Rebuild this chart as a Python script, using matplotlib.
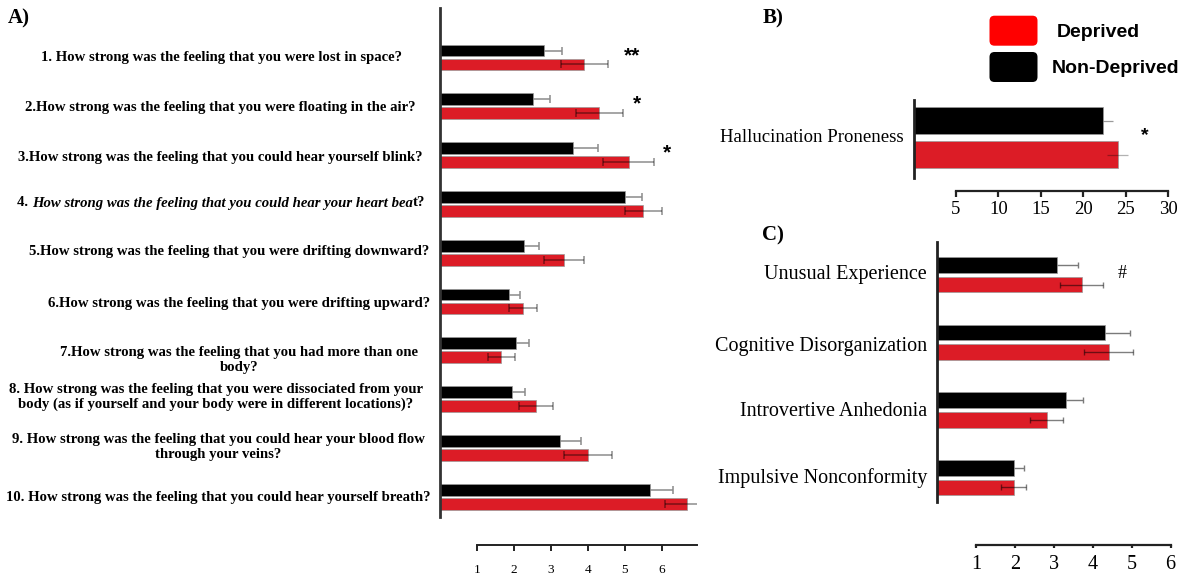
import matplotlib
matplotlib.use("Agg")
import matplotlib.pyplot as plt
from matplotlib.patches import FancyBboxPatch
from matplotlib.offsetbox import TextArea, HPacker, AnnotationBbox
import numpy as np

# ---------------- data ----------------
questions = [
    "1. How strong was the feeling that you were lost in space?",
    "2.How strong was the feeling that you were floating in the air?",
    "3.How strong was the feeling that you could hear yourself blink?",
    "4. How strong was the feeling that you could hear your heart beat?",
    "5.How strong was the feeling that you were drifting downward?",
    "6.How strong was the feeling that you were drifting upward?",
    "7.How strong was the feeling that you had more than one\nbody?",
    "8. How strong was the feeling that you were dissociated from your\nbody (as if yourself and your body were in different locations)?",
    "9. How strong was the feeling that you could hear your blood flow\nthrough your veins?",
    "10. How strong was the feeling that you could hear yourself breath?",
]
q_deprived = [3.90, 4.31, 5.10, 5.50, 3.35, 2.25, 1.65, 2.59, 3.99, 6.68]
q_deprived_err = [0.63, 0.63, 0.68, 0.50, 0.53, 0.38, 0.36, 0.47, 0.65, 0.59]
q_non_deprived = [2.80, 2.50, 3.60, 5.00, 2.26, 1.85, 2.05, 1.94, 3.25, 5.69]
q_non_deprived_err = [0.50, 0.47, 0.66, 0.45, 0.40, 0.32, 0.34, 0.36, 0.55, 0.62]
q_signif = ["**", "*", "*", "", "", "", "", "", "", ""]
q_ticks = [1, 2, 3, 4, 5, 6]

hp_label = "Hallucination Proneness"
hp_deprived, hp_deprived_err = 24.05, 1.27
hp_non_deprived, hp_non_deprived_err = 22.36, 1.10
hp_signif = "*"
hp_ticks = [5, 10, 15, 20, 25, 30]

schizotypy = ["Unusual Experience", "Cognitive Disorganization",
              "Introvertive Anhedonia", "Impulsive Nonconformity"]
s_deprived = [3.71, 4.41, 2.81, 1.97]
s_deprived_err = [0.56, 0.63, 0.42, 0.32]
s_non_deprived = [3.07, 4.31, 3.32, 1.97]
s_non_deprived_err = [0.54, 0.64, 0.43, 0.26]
s_signif = ["#", "", "", ""]
s_ticks = [1, 2, 3, 4, 5, 6]

group_names = ["Deprived", "Non-Deprived"]

# ---------------- style ----------------
RED = "#DC1C26"
LEGEND_RED = "#FF0000"
BLACK = "#000000"
plt.rcParams["font.family"] = ["Liberation Serif", "DejaVu Serif"]

W, H = 1193, 575
fig = plt.figure(figsize=(W / 100, H / 100), dpi=100)
fig.patch.set_facecolor("white")


def add_ax(left, top, right, bottom):
    return fig.add_axes([left / W, 1 - bottom / H, (right - left) / W, (bottom - top) / H])


def ftxt(x, y, s, **kw):
    return fig.text(x / W, 1 - y / H, s, **kw)


def bare(ax):
    ax.set_facecolor("none")
    for sp in ax.spines.values():
        sp.set_visible(False)
    ax.set_xticks([])
    ax.set_yticks([])


def scale_axis(left, right, xmax, y, lo, hi, ticks, fs, ticklen, pad, lw):
    a = add_ax(left, y - 1, right, y)
    a.set_facecolor("none")
    a.set_xlim(0, xmax)
    for k in ("top", "left", "right"):
        a.spines[k].set_visible(False)
    a.spines["bottom"].set_bounds(lo, hi)
    a.spines["bottom"].set_linewidth(lw)
    a.spines["bottom"].set_color("#222222")
    a.set_yticks([])
    a.set_xticks(ticks)
    a.set_xticklabels([str(t) for t in ticks])
    a.tick_params(axis="x", direction="out", length=ticklen, width=lw,
                  color="#222222", labelsize=fs, pad=pad)
    return a


def grouped_bars(ax, pos, dep, dep_err, non, non_err, off, h, err_kw_non, err_kw_dep):
    pos = np.asarray(pos, dtype=float)
    ax.barh(pos - off, non, height=h, color=BLACK, edgecolor="#9a9a9a",
            linewidth=0.5, zorder=3)
    ax.barh(pos + off, dep, height=h, color=RED, edgecolor="#9a9a9a",
            linewidth=0.5, zorder=3)
    ax.errorbar(non, pos - off, xerr=non_err, fmt="none", zorder=2, **err_kw_non)
    ax.errorbar(dep, pos + off, xerr=dep_err, fmt="none", zorder=4, **err_kw_dep)


# ---------------- panel A ----------------
A_X0, A_SCALE, A_XMAX = 440.4, 36.9, 6.95
A_TOP, A_BOT = 8, 517
A_C0, A_STEP = 57.5, 48.8
axA = add_ax(A_X0, A_TOP, A_X0 + A_XMAX * A_SCALE, A_BOT)
bare(axA)
axA.set_xlim(0, A_XMAX)
axA.set_ylim((A_BOT - A_C0) / A_STEP, (A_TOP - A_C0) / A_STEP)
axA.spines["left"].set_visible(True)
axA.spines["left"].set_linewidth(2.0)
axA.spines["left"].set_color("#333333")
axA.spines["left"].set_zorder(5)

ekA_non = dict(ecolor="#8a8a8a", elinewidth=1.1, capsize=3.2, capthick=1.1)
ekA_dep = dict(ecolor=(0, 0, 0, 0.45), elinewidth=1.1, capsize=3.2, capthick=1.1)
grouped_bars(axA, range(len(questions)), q_deprived, q_deprived_err,
             q_non_deprived, q_non_deprived_err, 0.143, 0.24, ekA_non, ekA_dep)

# significance markers, placed to the right of each question's bars
mark_x = [5.19, 5.32, 6.13]
for i, mark in enumerate(q_signif):
    if mark:
        axA.text(mark_x[i], i - 0.04, mark, ha="center", va="center",
                 fontsize=15, fontweight="bold", family="Liberation Sans")

scale_axis(A_X0, A_X0 + A_XMAX * A_SCALE, A_XMAX, 545, 1, A_XMAX, q_ticks,
           9.5, 4.5, 9, 1.4)

# question labels, each centred on its own line block
label_x = [221.5, 220.5, 220, 221, 229.5, 239, 239.5, 216, 218.5, 218.7]
label_y = [58, 107, 158, 203, 252, 303, 360, 397, 447, 497]
QFS = 10.6
for i, q in enumerate(questions):
    if i == 3:
        continue
    ftxt(label_x[i], label_y[i], q, ha="center", va="center", fontsize=QFS,
         fontweight="bold", multialignment="center", linespacing=1.18)

# question 4 is set mostly in italics
q4 = questions[3]
parts = [q4[:3], q4[3:-2], q4[-2:]]
styles = ["normal", "italic", "normal"]
boxes = [TextArea(p, textprops=dict(fontsize=QFS, fontweight="bold", fontstyle=st))
         for p, st in zip(parts, styles)]
pack = HPacker(children=boxes, align="baseline", pad=0, sep=0)
ab = AnnotationBbox(pack, (label_x[3] / W, 1 - label_y[3] / H), xycoords="figure fraction",
                    frameon=False, box_alignment=(0.5, 0.5))
fig.add_artist(ab)

ftxt(8, 18, "A)", ha="left", va="center", fontsize=15, fontweight="bold")

# ---------------- panel B ----------------
B_X0, B_SCALE, B_XMAX = 913.5, 8.49, 31.4
B_TOP, B_BOT, B_C = 100, 178, 137.5
axB = add_ax(B_X0, B_TOP, B_X0 + B_XMAX * B_SCALE, B_BOT)
bare(axB)
axB.set_xlim(0, B_XMAX)
axB.set_ylim(B_BOT - B_C, B_TOP - B_C)
axB.spines["left"].set_visible(True)
axB.spines["left"].set_linewidth(2.0)
axB.spines["left"].set_color("#222222")
axB.spines["left"].set_zorder(5)
ekB_non = dict(ecolor="#9a9a9a", elinewidth=0.9, capsize=0)
ekB_dep = dict(ecolor=(0, 0, 0, 0.3), elinewidth=0.9, capsize=0)
grouped_bars(axB, [0], [hp_deprived], [hp_deprived_err], [hp_non_deprived],
             [hp_non_deprived_err], 17, 27, ekB_non, ekB_dep)
axB.text(27.3, -2, hp_signif, ha="center", va="center", fontsize=14,
         fontweight="bold", family="Liberation Sans")
ftxt(904, 137, hp_label, ha="right", va="center", fontsize=13.5)
scale_axis(B_X0, B_X0 + B_XMAX * B_SCALE, B_XMAX, 190.5, 5, 30, hp_ticks,
           13.5, 4.5, 3, 1.6)
ftxt(763, 18, "B)", ha="left", va="center", fontsize=15, fontweight="bold")

# legend
for k, (name, col) in enumerate(zip(group_names, [LEGEND_RED, BLACK])):
    top = 15.7 + k * 36.3
    patch = FancyBboxPatch((989.5 / 100, (H - top - 30) / 100), 48 / 100, 30 / 100,
                           boxstyle="round,pad=0,rounding_size=0.05",
                           transform=fig.dpi_scale_trans, facecolor=col,
                           edgecolor="none")
    fig.add_artist(patch)
ftxt(1056.7, 32.3, group_names[0], ha="left", va="center", fontsize=14,
     fontweight="bold", family="Liberation Sans")
ftxt(1051.7, 68.3, group_names[1], ha="left", va="center", fontsize=14,
     fontweight="bold", family="Liberation Sans")

# ---------------- panel C ----------------
C_X0, C_SCALE, C_XMAX = 937.2, 38.9, 6.37
C_TOP, C_BOT = 241.7, 501.7
C_C0, C_STEP = 274.8, 67.6
axC = add_ax(C_X0, C_TOP, C_X0 + C_XMAX * C_SCALE, C_BOT)
bare(axC)
axC.set_xlim(0, C_XMAX)
axC.set_ylim((C_BOT - C_C0) / C_STEP, (C_TOP - C_C0) / C_STEP)
axC.spines["left"].set_visible(True)
axC.spines["left"].set_linewidth(2.0)
axC.spines["left"].set_color("#222222")
axC.spines["left"].set_zorder(5)
ekC_non = dict(ecolor="#7a7a7a", elinewidth=1.0, capsize=2, capthick=1.0)
ekC_dep = dict(ecolor=(0, 0, 0, 0.5), elinewidth=1.0, capsize=2, capthick=1.0)
grouped_bars(axC, range(len(schizotypy)), s_deprived, s_deprived_err,
             s_non_deprived, s_non_deprived_err, 0.144, 0.23, ekC_non, ekC_dep)
for i, mark in enumerate(s_signif):
    if mark:
        axC.text(4.75, i - 0.02, mark, ha="center", va="center", fontsize=13)

c_label_y = [275, 346, 411.7, 477.7]
for lab, y in zip(schizotypy, c_label_y):
    ftxt(927, y, lab, ha="right", va="center", fontsize=14.5)
scale_axis(C_X0, C_X0 + C_XMAX * C_SCALE, C_XMAX, 545, 1, 6, s_ticks,
           14.5, 2.5, 5, 1.6)
ftxt(762, 235, "C)", ha="left", va="center", fontsize=15, fontweight="bold")

fig.savefig("out.png", dpi=100, facecolor="white")
